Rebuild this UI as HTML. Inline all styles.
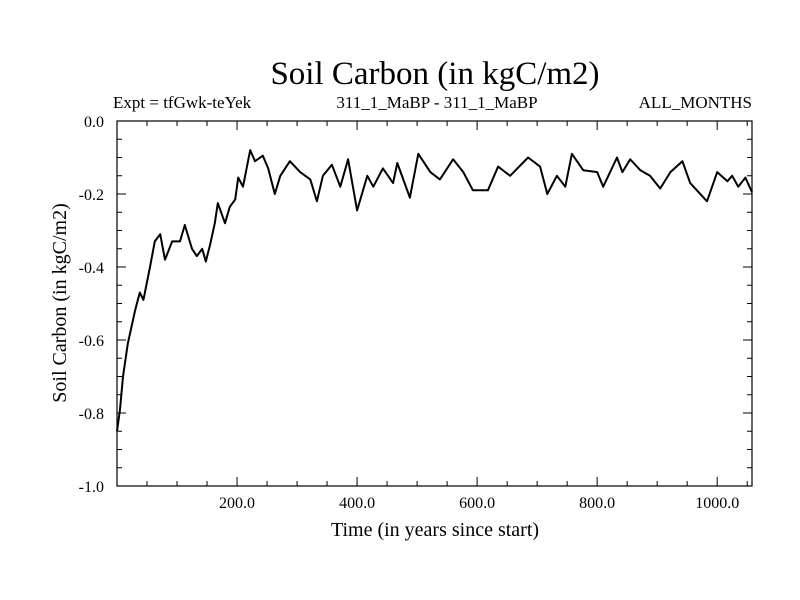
<!DOCTYPE html>
<html><head><meta charset="utf-8"><style>
body{margin:0;background:#fff}
svg{display:block;font-family:"Liberation Serif",serif}
</style></head><body>
<svg width="800" height="600">
<text x="435" y="84" font-size="33" text-anchor="middle">Soil Carbon (in kgC/m2)</text>
<text x="113" y="108" font-size="17">Expt = tfGwk-teYek</text>
<text x="437" y="108" font-size="17" text-anchor="middle">311_1_MaBP - 311_1_MaBP</text>
<text x="752" y="108" font-size="17" text-anchor="end">ALL_MONTHS</text>
<g id="axes"></g>
<path id="line" fill="none" stroke="#000" stroke-width="2" stroke-linejoin="round"/>
<rect x="117" y="121" width="635" height="365" fill="none" stroke="#000" stroke-width="1.2"/>
<text x="435" y="536" font-size="20" text-anchor="middle">Time (in years since start)</text>
<text transform="translate(66,303) rotate(-90)" font-size="20" text-anchor="middle">Soil Carbon (in kgC/m2)</text>
</svg>
<script>
const years=[0,5,10,18,30,38,44,55,63,72,80,92,105,113,125,133,142,148,155,163,168,180,188,197,202,210,222,230,243,252,263,272,288,305,322,333,343,358,372,385,400,417,427,443,460,467,488,502,522,538,560,577,593,618,635,655,685,705,717,733,747,758,777,800,810,833,842,855,872,888,905,922,942,955,983,1000,1017,1025,1035,1047,1058];
const carbon=[-0.85,-0.79,-0.70,-0.61,-0.52,-0.47,-0.49,-0.40,-0.33,-0.31,-0.38,-0.33,-0.33,-0.285,-0.35,-0.37,-0.35,-0.385,-0.34,-0.28,-0.225,-0.28,-0.235,-0.215,-0.155,-0.18,-0.08,-0.11,-0.095,-0.13,-0.20,-0.15,-0.11,-0.14,-0.16,-0.22,-0.15,-0.12,-0.18,-0.105,-0.245,-0.15,-0.18,-0.13,-0.17,-0.115,-0.21,-0.09,-0.14,-0.16,-0.105,-0.14,-0.19,-0.19,-0.125,-0.15,-0.10,-0.125,-0.20,-0.15,-0.18,-0.09,-0.135,-0.14,-0.18,-0.10,-0.14,-0.105,-0.135,-0.15,-0.185,-0.14,-0.11,-0.17,-0.22,-0.14,-0.165,-0.15,-0.18,-0.155,-0.195];
const xTicks=[200,400,600,800,1000];
const xTickLabels=["200.0","400.0","600.0","800.0","1000.0"];
const yTicks=[0,-0.2,-0.4,-0.6,-0.8,-1.0];
const yTickLabels=["0.0","-0.2","-0.4","-0.6","-0.8","-1.0"];
const X0=117,X1=752,Y0=121,Y1=486,XMAX=1058;
const sx=v=>X0+v*(X1-X0)/XMAX;
const sy=v=>Y0+(-v)*(Y1-Y0)/1.0;
const NS='http://www.w3.org/2000/svg';
const axes=document.getElementById('axes');
function ln(x1,y1,x2,y2,name){const l=document.createElementNS(NS,'line');
l.setAttribute('x1',x1);l.setAttribute('y1',y1);l.setAttribute('x2',x2);l.setAttribute('y2',y2);l.setAttribute('stroke','#000');l.setAttribute('stroke-width','1');


axes.appendChild(l);}
function tx(x,y,s,anchor,name){const t=document.createElementNS(NS,'text');
t.setAttribute('x',x);t.setAttribute('y',y);t.setAttribute('font-size','16');t.setAttribute('text-anchor',anchor);t.textContent=s;


axes.appendChild(t);}
for(let v=50;v<XMAX;v+=50){const major=v%200===0;const L=major?9:5;const x=sx(v);
ln(x,Y1,x,Y1-L,'x-tick');ln(x,Y0,x,Y0+L,'x-tick-top');}
xTicks.forEach((v,i)=>tx(sx(v),Y1+22,xTickLabels[i],'middle','x-tick-label'));
for(let k=0;k<=20;k++){const v=-k*0.05;const major=k%4===0;const L=major?9:5;const y=sy(v);
ln(X0,y,X0+L,y,'y-tick');ln(X1,y,X1-L,y,'y-tick-right');}
yTicks.forEach((v,i)=>tx(104,sy(v)+6,yTickLabels[i],'end','y-tick-label'));
document.getElementById('line').setAttribute('d',years.map((y,i)=>(i?'L':'M')+sx(y).toFixed(1)+','+sy(carbon[i]).toFixed(1)).join(''));
</script>
</body></html>
